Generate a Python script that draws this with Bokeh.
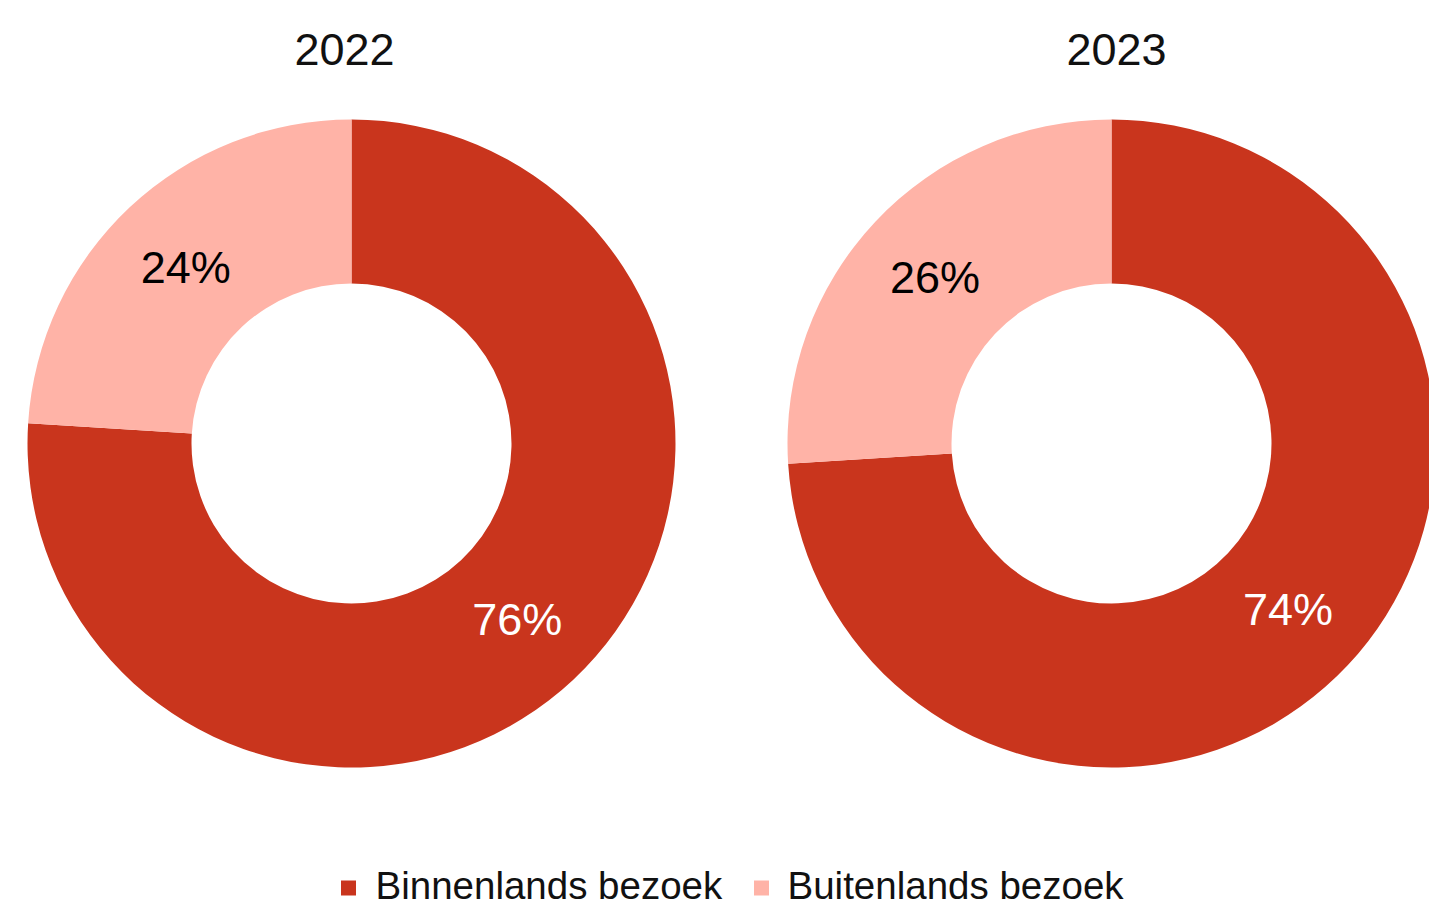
import math
from bokeh.plotting import figure
from bokeh.models import Range1d, ColumnDataSource
from bokeh.core.properties import value
from bokeh.embed import file_html
from bokeh.resources import INLINE

# ---- data ----
years = ["2022", "2023"]
categories = ["Binnenlands bezoek", "Buitenlands bezoek"]
binnenlands = [76, 74]
buitenlands = [24, 26]
colors = ["#C9351D", "#FFB3A7"]
label_colors = ["white", "black"]

# ---- layout (screen pixel space, y flipped) ----
W, H = 1429, 903
def sy(y):  # screen y -> data y
    return H - y

centers_x = [351, 1111]
center_y = 443
r_out, r_in = 324, 160
FONT = "Liberation Sans"

p = figure(width=W, height=H, x_range=Range1d(0, W), y_range=Range1d(0, H),
           output_backend="svg", toolbar_location=None, min_border=0)
p.axis.visible = False
p.grid.visible = False
p.outline_line_color = None
p.background_fill_color = "white"
p.border_fill_color = "white"

for i, yr in enumerate(years):
    vals = [binnenlands[i], buitenlands[i]]
    total = sum(vals)
    start = math.pi / 2
    starts, ends, lx, ly, txt = [], [], [], [], []
    for v in vals:
        sweep = v / total * 2 * math.pi
        end = start - sweep
        starts.append(start)
        ends.append(end)
        mid = (start + end) / 2
        rm = (r_out + r_in) / 2
        lx.append(centers_x[i] + rm * math.cos(mid))
        ly.append(sy(center_y) + rm * math.sin(mid))
        txt.append(f"{v}%")
        start = end
    src = ColumnDataSource(dict(s=starts, e=ends, c=colors,
                                x=[centers_x[i]] * 2, y=[sy(center_y)] * 2))
    p.annular_wedge(x="x", y="y", inner_radius=r_in, outer_radius=r_out,
                    start_angle="s", end_angle="e", direction="clock",
                    fill_color="c", line_color=None, source=src)
    lsrc = ColumnDataSource(dict(x=lx, y=ly, t=txt, c=label_colors))
    p.text(x="x", y="y", text="t", text_color="c", text_font=value(FONT),
           text_font_size="45px", text_align="center", text_baseline="middle",
           source=lsrc)
    p.text(x=[centers_x[i] - 7 + 12 * i], y=[sy(49)], text=[yr], text_color="#111111",
           text_font=value(FONT), text_font_size="45px", text_align="center",
           text_baseline="middle")

# legend
leg_sq_x = [348, 761]
leg_tx_x = [375, 787]
p.scatter(x=leg_sq_x, y=[sy(887.5)] * 2, marker="square", size=15,
          fill_color=colors, line_color=None)
p.text(x=leg_tx_x, y=[sy(885)] * 2, text=categories, text_color="#111111",
       text_font=value(FONT), text_font_size="38.5px", text_align="left",
       text_baseline="middle")

open("out.html", "w").write(file_html(p, INLINE))
